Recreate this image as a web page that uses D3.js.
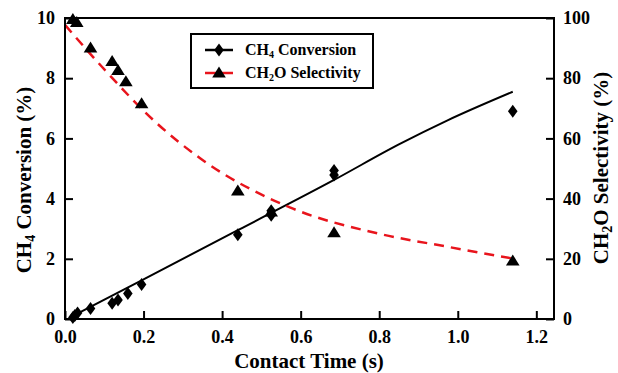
<!DOCTYPE html>
<html>
<head>
<meta charset="utf-8">
<script src="https://cdn.jsdelivr.net/npm/d3@7"></script>
<style>
  html, body { margin: 0; padding: 0; background: #fff; }
  svg { display: block; font-family: "Liberation Serif", "Times New Roman", serif; font-weight: bold; }
</style>
</head>
<body>
<svg id="chart" width="618" height="373"></svg>
<script>
// Measured CH4 conversion (%) vs contact time (s)
const convTime = [0.02, 0.025, 0.032, 0.065, 0.12, 0.135, 0.16, 0.195, 0.44, 0.525, 0.525, 0.685, 0.685, 1.14];
const convValue = [0.05, 0.12, 0.2, 0.35, 0.52, 0.63, 0.85, 1.15, 2.8, 3.45, 3.6, 4.78, 4.93, 6.9];

// Measured CH2O selectivity (%) vs contact time (s)
const selTime = [0.02, 0.03, 0.065, 0.12, 0.135, 0.155, 0.195, 0.44, 0.525, 0.685, 1.14];
const selValue = [99.5, 98.5, 90, 85.5, 82.5, 78.8, 71.5, 42.5, 35.5, 28.6, 19.2];

// Fitted trend for conversion (solid line)
const convFitTime = [0.02, 0.2, 0.44, 0.685, 0.85, 0.974, 1.14];
const convFitValue = [0.1, 1.32, 2.95, 4.62, 5.8, 6.6, 7.55];

// Fitted trend for selectivity (dashed line)
const selFitTime = [0.0, 0.094, 0.234, 0.344, 0.574, 0.804, 0.974, 1.135];
const selFitValue = [97.7, 83.8, 65.0, 53.4, 37.0, 28.2, 24.0, 20.2];

const xTicks = [0, 0.2, 0.4, 0.6, 0.8, 1.0, 1.2];
const yLeftTicks = [0, 2, 4, 6, 8, 10];
const yRightTicks = [0, 20, 40, 60, 80, 100];

const svg = d3.select("#chart");
const plotL = 65, plotR = 554, plotT = 18, plotB = 319;

const x = d3.scaleLinear().domain([0, 1.245]).range([plotL, plotR]);
const yL = d3.scaleLinear().domain([0, 10]).range([plotB, plotT]);
const yR = d3.scaleLinear().domain([0, 100]).range([plotB, plotT]);

// Fitted curves
const fitLine = (ys) => d3.line().x(d => x(d[0])).y(d => ys(d[1])).curve(d3.curveMonotoneX);

svg.append("path")
  .datum(d3.zip(convFitTime, convFitValue))
  .attr("d", fitLine(yL))
  .attr("fill", "none").attr("stroke", "#000").attr("stroke-width", 2);

svg.append("path")
  .datum(d3.zip(selFitTime, selFitValue))
  .attr("d", fitLine(yR))
  .attr("fill", "none").attr("stroke", "#e8141c").attr("stroke-width", 2.5)
  .attr("stroke-dasharray", "10,7");

// Markers
const diamond = (cx, cy, w = 4.8, h = 6.5) =>
  `M${cx},${cy - h}L${cx + w},${cy}L${cx},${cy + h}L${cx - w},${cy}Z`;
const triangle = (cx, cy, w = 6.8, h = 11) =>
  `M${cx},${cy - h * 0.6}L${cx + w},${cy + h * 0.4}L${cx - w},${cy + h * 0.4}Z`;

svg.append("g").selectAll("path")
  .data(d3.zip(selTime, selValue))
  .join("path")
  .attr("d", d => triangle(x(d[0]), yR(d[1])))
  .attr("fill", "#000");

svg.append("g").selectAll("path")
  .data(d3.zip(convTime, convValue))
  .join("path")
  .attr("d", d => diamond(x(d[0]), yL(d[1])))
  .attr("fill", "#000");

// Axes with inward ticks
const tickLen = 8;
const styleAxis = g => {
  g.select(".domain").remove();
  g.selectAll(".tick line").attr("stroke", "#000").attr("stroke-width", 2);
  g.selectAll(".tick text").attr("fill", "#000").attr("font-size", 18)
    .attr("font-family", "Liberation Serif, Times New Roman, serif").attr("font-weight", "bold");
};

svg.append("g").attr("transform", `translate(0,${plotB})`)
  .call(d3.axisBottom(x).tickValues(xTicks).tickFormat(d3.format(".1f"))
    .tickSizeInner(-tickLen).tickSizeOuter(0).tickPadding(11))
  .call(styleAxis);

svg.append("g").attr("transform", `translate(${plotL},0)`)
  .call(d3.axisLeft(yL).tickValues(yLeftTicks).tickFormat(d3.format("d"))
    .tickSizeInner(-tickLen).tickSizeOuter(0).tickPadding(10))
  .call(styleAxis);

svg.append("g").attr("transform", `translate(${plotR},0)`)
  .call(d3.axisRight(yR).tickValues(yRightTicks).tickFormat(d3.format("d"))
    .tickSizeInner(-tickLen).tickSizeOuter(0).tickPadding(9))
  .call(styleAxis);

// Plot frame
svg.append("rect")
  .attr("x", plotL).attr("y", plotT)
  .attr("width", plotR - plotL).attr("height", plotB - plotT)
  .attr("fill", "none").attr("stroke", "#000").attr("stroke-width", 2);

// Axis titles
svg.append("text")
  .attr("x", 309).attr("y", 368)
  .attr("text-anchor", "middle").attr("font-size", 21)
  .text("Contact Time (s)");

const leftTitle = svg.append("text")
  .attr("transform", `translate(31,180) rotate(-90)`)
  .attr("text-anchor", "middle").attr("font-size", 21);
leftTitle.append("tspan").text("CH");
leftTitle.append("tspan").attr("font-size", 14).attr("dy", 4).text("4");
leftTitle.append("tspan").attr("dy", -4).text(" Conversion (%)");

const rightTitle = svg.append("text")
  .attr("transform", `translate(608,168) rotate(-90)`)
  .attr("text-anchor", "middle").attr("font-size", 21);
rightTitle.append("tspan").text("CH");
rightTitle.append("tspan").attr("font-size", 14).attr("dy", 4).text("2");
rightTitle.append("tspan").attr("dy", -4).text("O Selectivity (%)");

// Legend
const legend = svg.append("g");
legend.append("rect")
  .attr("x", 191).attr("y", 34).attr("width", 182).attr("height", 54)
  .attr("fill", "#fff").attr("stroke", "#000").attr("stroke-width", 2);

const legendRows = [
  { y: 50, color: "#000", marker: "diamond", sub: "4", rest: " Conversion" },
  { y: 73, color: "#e8141c", marker: "triangle", sub: "2", rest: "O Selectivity" }
];
legendRows.forEach(r => {
  legend.append("line")
    .attr("x1", 205).attr("x2", 233).attr("y1", r.y).attr("y2", r.y)
    .attr("stroke", r.color).attr("stroke-width", 2.5);
  legend.append("path")
    .attr("d", r.marker === "diamond" ? diamond(219, r.y, 4.8, 6.5) : triangle(219, r.y, 6.8, 11))
    .attr("fill", "#000");
  const t = legend.append("text")
    .attr("x", 245).attr("y", r.y + 5).attr("font-size", 16);
  t.append("tspan").text("CH");
  t.append("tspan").attr("font-size", 10).attr("dy", 3).text(r.sub);
  t.append("tspan").attr("dy", -3).text(r.rest);
});
</script>
</body>
</html>
